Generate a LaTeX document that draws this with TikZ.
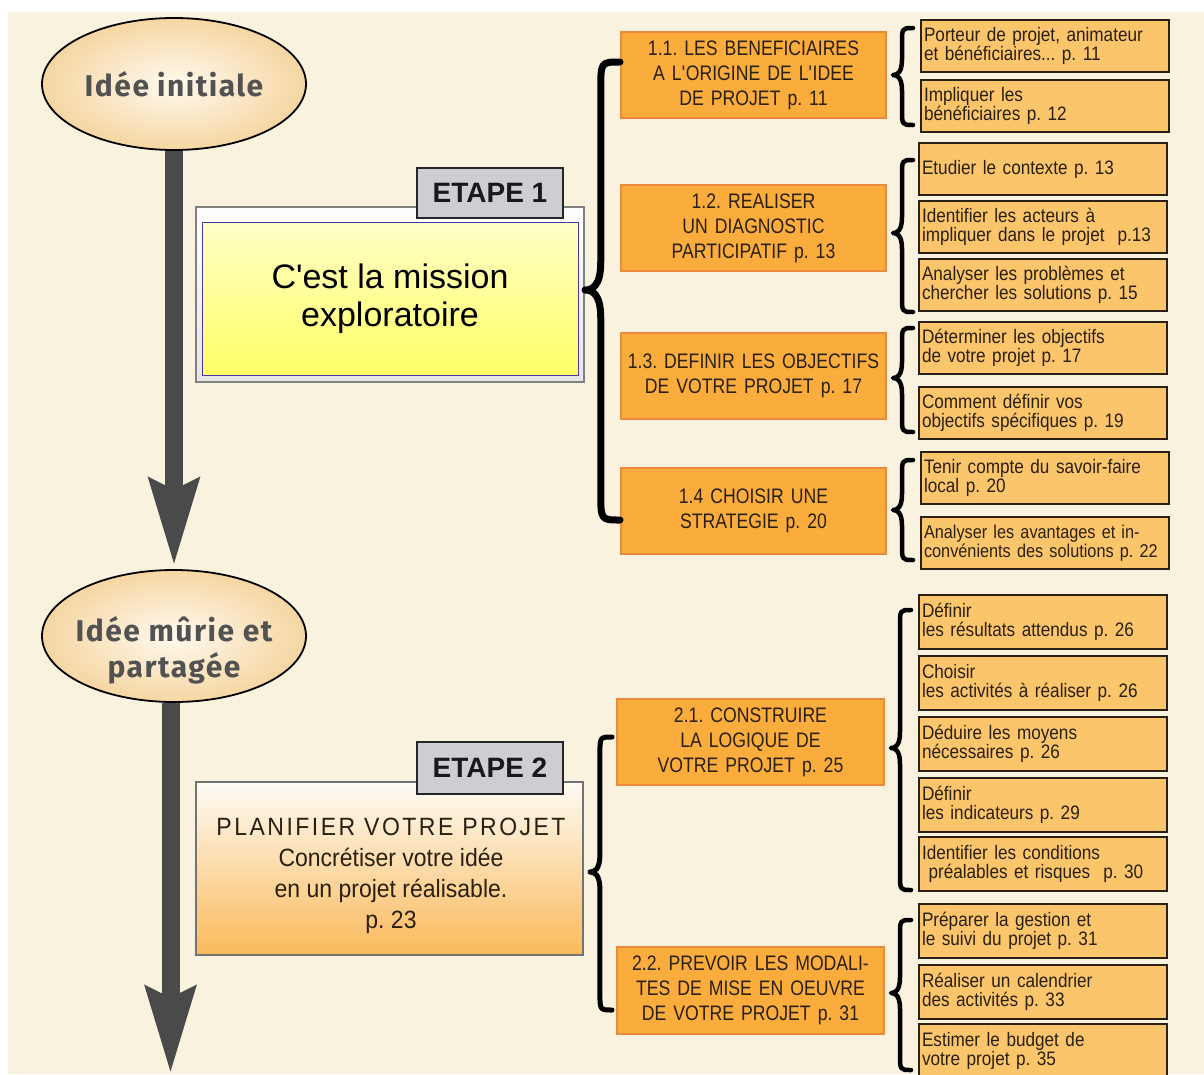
\documentclass[tikz,border=0pt]{standalone}
\usepackage{fontspec}
\setmainfont{Liberation Sans}
\newfontfamily\condA[FakeStretch=0.84]{Liberation Sans}
\newfontfamily\condB[FakeStretch=0.88]{Liberation Sans}
\newfontfamily\condC[FakeStretch=0.92]{Liberation Sans}
\newfontfamily\condL[FakeStretch=0.92,LetterSpace=10]{Liberation Sans}
\newfontfamily\comicf[LetterSpace=5]{Fira Sans}
\usetikzlibrary{shapes.geometric,arrows.meta,shadings}
\frenchspacing

\definecolor{bg}{HTML}{F8F2DF}
\definecolor{midfill}{HTML}{FAAD3D}
\definecolor{middraw}{HTML}{EB8A3C}
\definecolor{lightfill}{HTML}{FBC56C}
\definecolor{lightdraw}{HTML}{2B2015}
\definecolor{arrowgray}{HTML}{4A4A4A}
\definecolor{etapefill}{HTML}{CDCDD3}
\definecolor{ellout}{HTML}{F6D6A2}
\definecolor{ellin}{HTML}{FFF9EE}
\definecolor{txtdark}{HTML}{2A2012}
\definecolor{innerdraw}{HTML}{4B35A8}

\newcommand\cbrace[6]{%
 \draw[bracestyle, line width=#6]
  ({#1+#5},{#2}) .. controls ({#1+0.45*#5},{#2}) and ({#1+0.45*#5},{#2}) .. ({#1+0.45*#5},{#2+0.8*#5})
  -- ({#1+0.45*#5},{#3-0.8*#5}) .. controls ({#1+0.45*#5},{#3-0.1*#5}) and ({#1+0.2*#5},{#3}) .. ({#1},{#3})
  .. controls ({#1+0.2*#5},{#3}) and ({#1+0.45*#5},{#3+0.1*#5}) .. ({#1+0.45*#5},{#3+0.8*#5})
  -- ({#1+0.45*#5},{#4-0.8*#5}) .. controls ({#1+0.45*#5},{#4}) and ({#1+0.45*#5},{#4}) .. ({#1+#5},{#4});
}

\tikzset{
  bracestyle/.style={black, line cap=round, line join=round},
  midbox/.style={draw=middraw, line width=2pt, fill=midfill, minimum width=265pt,
    minimum height=86pt, text width=258pt, align=center, inner sep=0pt,
    font=\condA\fontsize{21}{25}\selectfont, text=txtdark},
  lightbox/.style={draw=lightdraw, line width=2.5pt, fill=lightfill, minimum width=248pt,
    minimum height=52pt, text width=242pt, align=left, inner sep=0pt,
    font=\condB\fontsize{19.5}{18.5}\selectfont, text=txtdark},
  idea/.style={ellipse, draw=black, line width=1.8pt, inner color=ellin, outer color=ellout,
    minimum width=264pt, minimum height=132pt, inner sep=0pt, align=center,
    font=\comicf\bfseries\fontsize{30}{36}\selectfont, text=black!68},
  ideatext/.style={inner sep=0pt, align=center,
    font=\comicf\bfseries\fontsize{30}{36}\selectfont, text=black!68},
  etape/.style={draw=black!85, line width=2pt, fill=etapefill, minimum width=146pt,
    minimum height=50pt, inner sep=0pt, font=\bfseries\fontsize{28}{28}\selectfont, text=black!90},
  bigarrow/.style={draw=arrowgray, line width=18pt,
    -{Stealth[length=86pt,width=48pt,inset=10pt]}},
}

\begin{document}
\begin{tikzpicture}[x=1pt,y=-1pt]
\useasboundingbox (0,0) rectangle (1204,1074);
\fill[white] (0,0) rectangle (1204,1074);
\fill[bg] (8,12) rectangle (1204,1074);

% ideas and flow arrows
\node[idea] (e1) at (174,84) {Idée\hspace{8pt}initiale};
\node[idea] (e2) at (174,636) {};
\node[ideatext] (e2txt) at (174,650) {Idée mûrie et\\partagée};
\coordinate (tip1) at (174,566);
\coordinate (tip2) at (170.5,1074);
\draw[bigarrow] (e1.south) -- (tip1);
\draw[bigarrow] (e2.south -| tip2) -- (tip2);

% ETAPE 1
\node[draw=black!50, line width=1.5pt, top color=white, bottom color=black!10,
      minimum width=388pt, minimum height=175pt, inner sep=0pt] (f1) at (390,294.5) {};
\node[draw=innerdraw, line width=1pt, top color=yellow!22, bottom color=yellow!60,
      minimum width=376pt, minimum height=153pt, inner sep=0pt, align=center,
      font=\fontsize{34}{38}\selectfont] (y1) at (390,298.5) {C\textquotesingle est la mission\\exploratoire};
\node[etape] (t1) at (490,192.5) {ETAPE 1};

% ETAPE 2
\node[draw=black!55, line width=1.5pt, top color=white!70!bg, bottom color=midfill!85,
      minimum width=387pt, minimum height=173pt, inner sep=0pt] (f2) at (389.5,868.5) {};
\node[align=center, inner sep=0pt, text=txtdark, font=\condC\fontsize{25}{31}\selectfont]
  (t2txt) at (391,876) {{\condL PLANIFIER VOTRE PROJET}\\Concrétiser votre idée\\en un projet réalisable.\\p. 23};
\node[etape, minimum height=52pt] (t2) at (490,768) {ETAPE 2};

% level-1 boxes
\node[midbox] (m11) at (753.5,75) {1.1. LES BENEFICIAIRES\\A L\textquotesingle ORIGINE DE L\textquotesingle IDEE\\DE PROJET p. 11};
\node[midbox] (m12) at (753.5,228) {1.2. REALISER\\UN DIAGNOSTIC\\PARTICIPATIF p. 13};
\node[midbox] (m13) at (753.5,376) {1.3. DEFINIR LES OBJECTIFS\\DE VOTRE PROJET p. 17};
\node[midbox] (m14) at (753.5,511) {1.4 CHOISIR UNE\\STRATEGIE p. 20};
\node[midbox, minimum width=267pt] (m21) at (750.5,742) {2.1. CONSTRUIRE\\LA LOGIQUE DE\\VOTRE PROJET p. 25};
\node[midbox, minimum width=267pt, minimum height=87pt] (m22) at (750.5,990.5) {2.2. PREVOIR LES MODALI-\\TES DE MISE EN OEUVRE\\DE VOTRE PROJET p. 31};

% level-2 boxes
\node[lightbox] (la) at (1045,46) {Porteur de projet, animateur\\et bénéficiaires... p. 11};
\node[lightbox] (lb) at (1045,106) {Impliquer les\\bénéficiaires p. 12};
\node[lightbox] (lc) at (1043,169) {Etudier le contexte p. 13};
\node[lightbox] (ld) at (1043,227) {Identifier les acteurs à\\impliquer dans le projet\ \ p.13};
\node[lightbox] (le) at (1043,285) {Analyser les problèmes et\\chercher les solutions p. 15};
\node[lightbox] (lf) at (1043,348) {Déterminer les objectifs\\de votre projet p. 17};
\node[lightbox] (lg) at (1043,413) {Comment définir vos\\objectifs spécifiques p. 19};
\node[lightbox] (lh) at (1045,478) {Tenir compte du savoir-faire\\local p. 20};
\node[lightbox, font=\condB\fontsize{18.5}{19.5}\selectfont] (li) at (1045,543) {Analyser les avantages et in-\\\mbox{convénients des solutions p. 22}};
\node[lightbox, minimum height=54pt] (lj) at (1043,622) {Définir\\les résultats attendus p. 26};
\node[lightbox, minimum height=54pt] (lk) at (1043,683) {Choisir\\les activités à réaliser p. 26};
\node[lightbox, minimum height=54pt] (ll) at (1043,744) {Déduire les moyens\\nécessaires p. 26};
\node[lightbox, minimum height=54pt] (lm) at (1043,805) {Définir\\les indicateurs p. 29};
\node[lightbox, minimum height=54pt] (ln) at (1043,864) {Identifier les conditions\\\ préalables et risques\ \ p. 30};
\node[lightbox, minimum height=54pt] (lo) at (1043,931) {Préparer la gestion et\\le suivi du projet p. 31};
\node[lightbox, minimum height=54pt] (lp) at (1043,992) {Réaliser un calendrier\\des activités p. 33};
\node[lightbox, minimum height=54pt] (lq) at (1043,1051) {Estimer le budget de\\votre projet p. 35};

% braces
\cbrace{585}{62}{290}{520}{35}{7}
\cbrace{590}{737}{872}{1010}{22}{5}
\cbrace{893}{28}{75}{125}{20}{4.5}
\cbrace{893}{160}{233}{312}{20}{4.5}
\cbrace{893}{328}{378}{432}{20}{4.5}
\cbrace{893}{460}{510}{560}{20}{4.5}
\cbrace{891}{610}{748}{890}{20}{4.5}
\cbrace{891}{920}{993}{1070}{20}{4.5}
\end{tikzpicture}
\end{document}
